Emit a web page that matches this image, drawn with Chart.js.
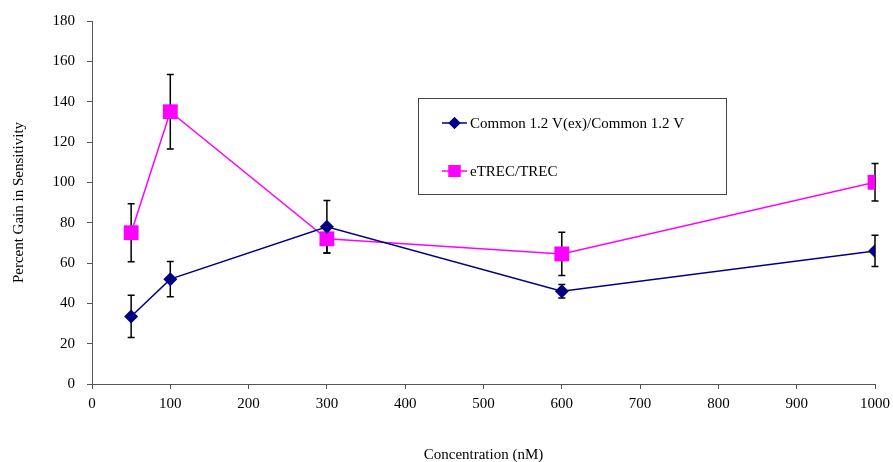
<!DOCTYPE html>
<html>
<head>
<meta charset="utf-8">
<script src="https://cdn.jsdelivr.net/npm/chart.js@4/dist/chart.umd.min.js"></script>
<style>
  html, body { margin: 0; padding: 0; background: #fff; }
  #wrap { width: 893px; height: 462px; }
</style>
</head>
<body>
<div id="wrap"><canvas id="gainChart" width="893" height="462"></canvas></div>
<script>
const concentrations = [50, 100, 300, 600, 1000];
const commonGain = [33.5, 52, 78, 46, 66];
const commonErr = [10.5, 8.7, 13, 3.4, 7.7];
const trecGain = [75, 135, 72, 64.5, 100];
const trecErr = [14.4, 18.5, 7, 10.7, 9.3];
const seriesNames = ["Common 1.2 V(ex)/Common 1.2 V", "eTREC/TREC"];

const FONT = "'Liberation Serif', 'Times New Roman', serif";

const toPoints = (xs, ys) => xs.map((x, i) => ({ x: x, y: ys[i] }));

// error bars, drawn under the markers
const errorBars = {
  id: "errorBars",
  beforeDatasetsDraw(chart) {
    const ctx = chart.ctx;
    const xs = chart.scales.x, ys = chart.scales.y;
    const sets = [[commonGain, commonErr], [trecGain, trecErr]];
    ctx.save();
    ctx.strokeStyle = "#000";
    ctx.lineWidth = 1.5;
    sets.forEach(([vals, errs]) => {
      concentrations.forEach((c, i) => {
        const px = xs.getPixelForValue(c);
        const top = ys.getPixelForValue(vals[i] + errs[i]);
        const bot = ys.getPixelForValue(vals[i] - errs[i]);
        ctx.beginPath();
        ctx.moveTo(px, top); ctx.lineTo(px, bot);
        ctx.moveTo(px - 3.5, top); ctx.lineTo(px + 3.5, top);
        ctx.moveTo(px - 3.5, bot); ctx.lineTo(px + 3.5, bot);
        ctx.stroke();
      });
    });
    ctx.restore();
  }
};

// boxed legend inside the plot
const boxLegend = {
  id: "boxLegend",
  afterDraw(chart) {
    const ctx = chart.ctx;
    ctx.save();
    ctx.strokeStyle = "#444";
    ctx.lineWidth = 1;
    ctx.strokeRect(418.5, 98.5, 308, 96);
    const rows = [
      { y: 123, color: "#000080", style: "rectRot", r: 6 },
      { y: 171, color: "#ff00ff", style: "rect", r: 8.5 }
    ];
    rows.forEach((row, i) => {
      ctx.strokeStyle = row.color;
      ctx.lineWidth = 1.5;
      ctx.beginPath();
      ctx.moveTo(442, row.y); ctx.lineTo(467, row.y);
      ctx.stroke();
      ctx.fillStyle = row.color;
      Chart.helpers.drawPoint(ctx, { pointStyle: row.style, radius: row.r, borderWidth: 0 }, 454.5, row.y);
      ctx.fill();
      ctx.fillStyle = "#000";
      ctx.font = "15px " + FONT;
      ctx.textBaseline = "middle";
      ctx.fillText(seriesNames[i], 470, row.y + 1);
    });
    ctx.restore();
  }
};

new Chart(document.getElementById("gainChart"), {
  type: "line",
  data: {
    datasets: [{
      label: seriesNames[0],
      data: toPoints(concentrations, commonGain),
      borderColor: "#000080",
      backgroundColor: "#000080",
      borderWidth: 1.5,
      pointStyle: "rectRot",
      pointRadius: 7,
      pointBorderWidth: 0
    }, {
      label: seriesNames[1],
      data: toPoints(concentrations, trecGain),
      borderColor: "#ff00ff",
      backgroundColor: "#ff00ff",
      borderWidth: 1.5,
      pointStyle: "rect",
      pointRadius: 10.5,
      pointBorderWidth: 0
    }]
  },
  options: {
    responsive: false,
    animation: false,
    layout: { padding: { top: 19, right: 18, left: 0, bottom: 0 } },
    plugins: { legend: { display: false }, tooltip: { enabled: false } },
    scales: {
      x: {
        type: "linear",
        min: 0, max: 1000,
        border: { color: "#555", width: 1 },
        grid: { drawOnChartArea: false, tickLength: 5, color: "#555" },
        ticks: { stepSize: 100, color: "#000", font: { family: FONT, size: 15 }, padding: 6, callback: v => String(v) },
        title: { display: true, text: "Concentration (nM)", color: "#000", font: { family: FONT, size: 15 }, padding: { top: 0, bottom: -2 } },
        afterFit(scale) { scale.height = 78; scale.paddingRight = 0; }
      },
      y: {
        min: 0, max: 180,
        border: { color: "#555", width: 1 },
        grid: { drawOnChartArea: false, tickLength: 5, color: "#555" },
        ticks: { stepSize: 20, color: "#000", font: { family: FONT, size: 15 }, padding: 12 },
        title: { display: true, text: "Percent Gain in Sensitivity", color: "#000", font: { family: FONT, size: 15 }, padding: { top: 10, bottom: 0 } },
        afterFit(scale) { scale.width = 92; }
      }
    }
  },
  plugins: [errorBars, boxLegend]
});
</script>
</body>
</html>
